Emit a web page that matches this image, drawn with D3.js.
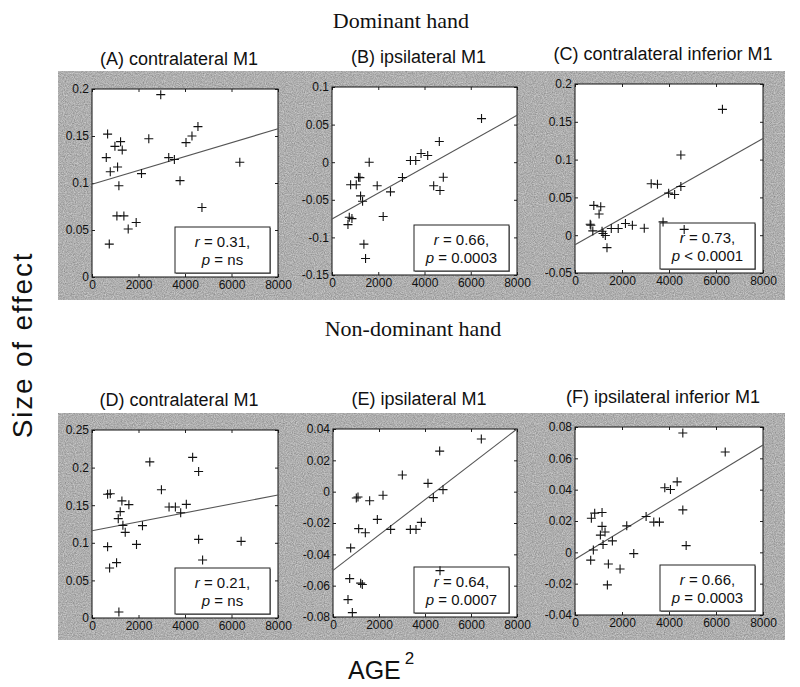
<!DOCTYPE html>
<html>
<head>
<meta charset="utf-8">
<script src="https://cdnjs.cloudflare.com/ajax/libs/d3/7.8.5/d3.min.js"></script>
<style>
  html, body { margin: 0; padding: 0; background: #fff; }
  svg { display: block; }
  .tick-label { font-family: "Liberation Sans", Arial, sans-serif; font-size: 12px; fill: #111; }
  .panel-title { font-family: "Liberation Sans", Arial, sans-serif; font-size: 18px; fill: #111; }
  .row-title { font-family: "Liberation Serif", "Times New Roman", serif; font-size: 22px; fill: #111; }
  .stat { font-family: "Liberation Sans", Arial, sans-serif; font-size: 15px; fill: #111; }
  .axis-title { font-family: "Liberation Sans", Arial, sans-serif; fill: #111; }
</style>
</head>
<body>
<div id="chart"></div>
<script>
/* Data
======================================================================= */
var rowTitles = ['Dominant hand', 'Non-dominant hand'],
    panelLetters = ['A', 'B', 'C', 'D', 'E', 'F'],
    panelTitles = ['contralateral M1', 'ipsilateral M1', 'contralateral inferior M1',
                   'contralateral M1', 'ipsilateral M1', 'ipsilateral inferior M1'],
    ageTicks = [0, 2000, 4000, 6000, 8000], // AGE^2 ticks, shared by every panel
    statR = ['0.31', '0.66', '0.73', '0.21', '0.64', '0.66'],
    statP = ['= ns', '= 0.0003', '< 0.0001', '= ns', '= 0.0007', '= 0.0003'];

// Y ticks of each panel
var yTicksA = [0, 0.05, 0.1, 0.15, 0.2],
    yTicksB = [-0.15, -0.1, -0.05, 0, 0.05, 0.1],
    yTicksC = [-0.05, 0, 0.05, 0.1, 0.15, 0.2],
    yTicksD = [0, 0.05, 0.1, 0.15, 0.2, 0.25],
    yTicksE = [-0.08, -0.06, -0.04, -0.02, 0, 0.02, 0.04],
    yTicksF = [-0.04, -0.02, 0, 0.02, 0.04, 0.06, 0.08];

// (A) contralateral M1, dominant hand
var ageA = [2957, 671, 4557, 4300, 4043, 2443, 1229, 986, 1300, 614, 3300, 3543,
            6357, 1100, 786, 2129, 3786, 1157, 4729, 1071, 1371, 1900, 1557, 743],
    effectA = [0.194, 0.152, 0.160, 0.150, 0.143, 0.147, 0.144, 0.139, 0.135, 0.127, 0.127, 0.125,
               0.122, 0.117, 0.112, 0.110, 0.1025, 0.097, 0.074, 0.065, 0.065, 0.058, 0.051, 0.035];

// (B) ipsilateral M1, dominant hand
var ageB = [6466, 4641, 3851, 4138, 3391, 3621, 1609, 3046, 4813, 1149, 1207, 805,
            1049, 1954, 4397, 4670, 2529, 1236, 1322, 2213, 747, 862, 690, 1379, 1451],
    effectB = [0.058, 0.0276, 0.0116, 0.009, 0.0023, 0.0023, 0.000, -0.0203, -0.020, -0.020, -0.0205, -0.030,
               -0.030, -0.0314, -0.0314, -0.0377, -0.0394, -0.0448, -0.052, -0.0723, -0.0732, -0.075, -0.083, -0.109, -0.128];

// (C) contralateral inferior M1, dominant hand
var ageC = [6274, 4505, 4505, 3242, 3509, 3986, 4239, 800, 1095, 1025, 646, 674,
            3747, 2147, 2442, 1544, 1839, 2947, 4646, 758, 1151, 1193, 1291, 1361],
    effectC = [0.1665, 0.106, 0.0644, 0.068, 0.0673, 0.0556, 0.0539, 0.0394, 0.0377, 0.028, 0.0145, 0.0132,
               0.0176, 0.0154, 0.0132, 0.0088, 0.0088, 0.0092, 0.0077, 0.0057, 0.0053, 0.0022, -0.0004, -0.0165];

// (D) contralateral M1, non-dominant hand
var ageD = [4329, 2486, 4586, 2986, 671, 786, 1286, 1586, 3314, 3586, 4057, 3814, 1214,
            1129, 1329, 2171, 1429, 4586, 6414, 1914, 671, 4757, 1057, 757, 1157],
    effectD = [0.2136, 0.2076, 0.1948, 0.1705, 0.1645, 0.1653, 0.1557, 0.1507, 0.1476, 0.1476, 0.1511, 0.140, 0.1414,
               0.1321, 0.1232, 0.1228, 0.1139, 0.1046, 0.1019, 0.0979, 0.0949, 0.0771, 0.0736, 0.0665, 0.008];

// (E) ipsilateral M1, non-dominant hand
var ageE = [6449, 4638, 3014, 4130, 4783, 4362, 1087, 1014, 2174, 1594, 1928, 1116,
            1406, 2507, 3362, 3609, 3841, 768, 4652, 725, 1275, 1203, 652, 841],
    effectE = [0.0336, 0.0259, 0.0106, 0.0053, 0.0013, -0.0038, -0.0034, -0.004, -0.0023, -0.0058, -0.0177, -0.0236,
               -0.0262, -0.0241, -0.0241, -0.0241, -0.0196, -0.0359, -0.0504, -0.0555, -0.0593, -0.0584, -0.0689, -0.0772];

// (F) ipsilateral inferior M1, non-dominant hand
var ageF = [4588, 6392, 4347, 3821, 4062, 4588, 1151, 838, 696, 3026, 3352, 3594, 1151,
            2202, 1278, 1080, 1591, 1193, 4730, 781, 2500, 668, 1420, 1918, 1378],
    effectF = [0.0762, 0.064, 0.045, 0.0412, 0.0401, 0.0271, 0.0254, 0.025, 0.0218, 0.0229, 0.0193, 0.0193, 0.0166,
               0.0169, 0.013, 0.011, 0.0073, 0.005, 0.0043, 0.0015, -0.0008, -0.005, -0.0074, -0.0106, -0.0208];

// Fitted line of each panel: effect at AGE^2 = 0 and at AGE^2 = 8000
var fitA = [0.0986, 0.1577],
    fitB = [-0.0754, 0.0623],
    fitC = [-0.0126, 0.128],
    fitD = [0.1161, 0.1636],
    fitE = [-0.0502, 0.040],
    fitF = [-0.0044, 0.0685];

/* Layout
======================================================================= */
var width = 800,
    height = 687,
    bands = [[58, 71, 727, 229], [58, 413, 727, 227]], // grey figure backgrounds
    boxes = [ // plot boxes: left, top, width, height (the scan is slightly skewed)
      [92, 89, 186, 188], [332, 87, 185, 188], [575, 84, 188, 189],
      [92, 430, 186, 188], [333, 429, 184, 188], [575, 427, 188, 188]
    ],
    tickLen = 3;

var panels = [
  { ages: ageA, effects: effectA, yTicks: yTicksA, fit: fitA },
  { ages: ageB, effects: effectB, yTicks: yTicksB, fit: fitB },
  { ages: ageC, effects: effectC, yTicks: yTicksC, fit: fitC },
  { ages: ageD, effects: effectD, yTicks: yTicksD, fit: fitD },
  { ages: ageE, effects: effectE, yTicks: yTicksE, fit: fitE },
  { ages: ageF, effects: effectF, yTicks: yTicksF, fit: fitF }
];

// MATLAB style number labels (0.2, -0.05, 0)
function fmt(v) {
  return String(+v.toFixed(3));
}

/* Draw
======================================================================= */
var svg = d3.select('#chart').append('svg')
    .attr('width', width)
    .attr('height', height);

// Grainy grey, like the printed figure
var defs = svg.append('defs');
var grain = defs.append('filter')
    .attr('id', 'grain')
    .attr('color-interpolation-filters', 'sRGB')
    .attr('x', 0).attr('y', 0).attr('width', 1).attr('height', 1);
grain.append('feTurbulence')
    .attr('type', 'fractalNoise')
    .attr('baseFrequency', 0.9)
    .attr('numOctaves', 2)
    .attr('seed', 4)
    .attr('result', 'noise');
grain.append('feColorMatrix')
    .attr('in', 'noise')
    .attr('type', 'saturate')
    .attr('values', 0)
    .attr('result', 'grey');
var transfer = grain.append('feComponentTransfer').attr('in', 'grey');
['feFuncR', 'feFuncG', 'feFuncB'].forEach(function(f) {
  transfer.append(f).attr('type', 'linear').attr('slope', 0.45).attr('intercept', 0.46);
});
transfer.append('feFuncA').attr('type', 'linear').attr('slope', 0).attr('intercept', 1);

svg.selectAll('rect.band')
    .data(bands)
    .enter().append('rect')
      .attr('class', 'band')
      .attr('x', function(d) { return d[0]; })
      .attr('y', function(d) { return d[1]; })
      .attr('width', function(d) { return d[2]; })
      .attr('height', function(d) { return d[3]; })
      .attr('fill', '#adadad')
      .attr('filter', 'url(#grain)');

// Row titles
svg.selectAll('text.row-title')
    .data(rowTitles)
    .enter().append('text')
      .attr('class', 'row-title')
      .attr('x', function(d, i) { return i ? 413 : 401; })
      .attr('y', function(d, i) { return i ? 336 : 28; })
      .attr('text-anchor', 'middle')
      .text(function(d) { return d; });

panels.forEach(function(p, i) {
  var b = boxes[i],
      x = d3.scaleLinear().domain([0, 8000]).range([0, b[2]]),
      y = d3.scaleLinear().domain(d3.extent(p.yTicks)).range([b[3], 0]);

  var g = svg.append('g').attr('transform', 'translate(' + b[0] + ',' + b[1] + ')');

  // Panel title
  g.append('text')
      .attr('class', 'panel-title')
      .attr('x', b[2] / 2 - 6)
      .attr('y', -24)
      .attr('text-anchor', 'middle')
      .text('(' + panelLetters[i] + ') ' + panelTitles[i]);

  // White plot area
  g.append('rect')
      .attr('width', b[2])
      .attr('height', b[3])
      .attr('fill', '#fff');

  // Axes with inward ticks on all four sides
  var axes = [
    { gen: d3.axisBottom(x).tickValues(ageTicks).tickSize(-tickLen).tickFormat(d3.format('d')), at: [0, b[3]] },
    { gen: d3.axisTop(x).tickValues(ageTicks).tickSize(-tickLen).tickFormat(''), at: [0, 0] },
    { gen: d3.axisLeft(y).tickValues(p.yTicks).tickSize(-tickLen).tickFormat(fmt), at: [0, 0] },
    { gen: d3.axisRight(y).tickValues(p.yTicks).tickSize(-tickLen).tickFormat(''), at: [b[2], 0] }
  ];
  axes.forEach(function(a) {
    var ax = g.append('g')
        .attr('transform', 'translate(' + a.at[0] + ',' + a.at[1] + ')')
        .call(a.gen.tickPadding(3));
    ax.select('.domain').remove();
    ax.selectAll('line').attr('stroke', '#222');
    ax.selectAll('text').attr('class', 'tick-label').attr('font-family', null).attr('font-size', null);
  });
  g.selectAll('.tick-label').attr('fill', '#111');

  // Box outline
  g.append('rect')
      .attr('width', b[2])
      .attr('height', b[3])
      .attr('fill', 'none')
      .attr('stroke', '#111')
      .attr('stroke-width', 1);

  // Fitted line
  g.append('line')
      .attr('x1', x(0)).attr('y1', y(p.fit[0]))
      .attr('x2', x(8000)).attr('y2', y(p.fit[1]))
      .attr('stroke', '#555')
      .attr('stroke-width', 1.1);

  // Statistics box
  var sw = 95, sh = 46,
      sx = b[2] - 8 - sw,
      sy = b[3] - 4 - sh;
  var s = g.append('g').attr('transform', 'translate(' + sx + ',' + sy + ')');
  s.append('rect')
      .attr('x', 1).attr('y', 1)
      .attr('width', sw).attr('height', sh)
      .attr('fill', '#888');
  s.append('rect')
      .attr('width', sw).attr('height', sh)
      .attr('fill', '#fff')
      .attr('stroke', '#222')
      .attr('stroke-width', 1);
  var t1 = s.append('text').attr('class', 'stat').attr('x', sw / 2).attr('y', 20).attr('text-anchor', 'middle');
  t1.append('tspan').attr('font-style', 'italic').text('r');
  t1.append('tspan').text(' = ' + statR[i] + ',');
  var t2 = s.append('text').attr('class', 'stat').attr('x', sw / 2).attr('y', 38).attr('text-anchor', 'middle');
  t2.append('tspan').attr('font-style', 'italic').text('p');
  t2.append('tspan').text(' ' + statP[i]);

  // Data points as plus markers
  g.selectAll('path.pt')
      .data(d3.zip(p.ages, p.effects))
      .enter().append('path')
        .attr('class', 'pt')
        .attr('transform', function(d) { return 'translate(' + x(d[0]) + ',' + y(d[1]) + ')'; })
        .attr('d', 'M-4.5,0H4.5M0,-4.5V4.5')
        .attr('stroke', '#111')
        .attr('stroke-width', 1.1)
        .attr('fill', 'none');
});

// Shared axis titles
svg.append('text')
    .attr('class', 'axis-title')
    .attr('transform', 'translate(32,345) rotate(-90)')
    .attr('text-anchor', 'middle')
    .attr('font-size', 28)
    .attr('letter-spacing', 1.8)
    .text('Size of effect');

var age = svg.append('text')
    .attr('class', 'axis-title')
    .attr('x', 348)
    .attr('y', 679)
    .attr('font-size', 25);
age.append('tspan').text('AGE');
age.append('tspan').attr('dx', 4).attr('dy', -15).attr('font-size', 17).text('2');
</script>
</body>
</html>
